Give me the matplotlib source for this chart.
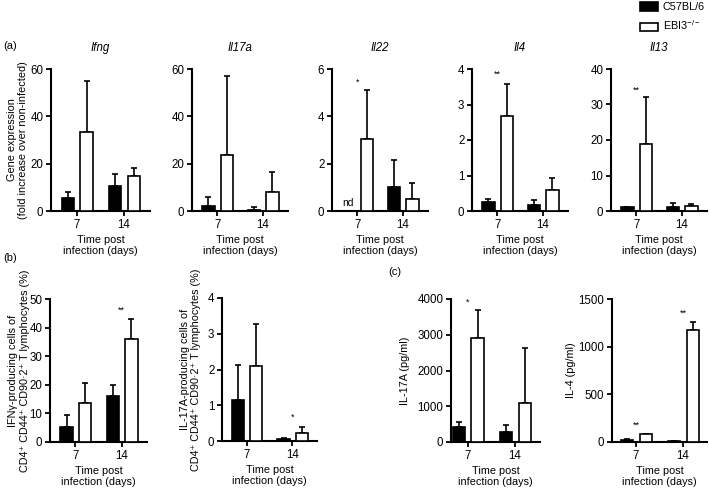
import matplotlib
matplotlib.use("Agg")
import matplotlib.pyplot as plt
from matplotlib.patches import Patch
import numpy as np

plt.rcParams['font.family'] = ['Liberation Sans', 'DejaVu Sans']
plt.rcParams['font.size'] = 7.5
plt.rcParams['mathtext.fontset'] = 'custom'
plt.rcParams['mathtext.rm'] = 'Liberation Sans'

days = ['7', '14']

# Panel (a) gene expression
genes = ['Ifng', 'Il17a', 'Il22', 'Il4', 'Il13']
a_black = [[5.5, 10.5], [2.0, 0.5], [0.0, 1.0], [0.25, 0.18], [1.0, 1.0]]
a_black_top = [[8.0, 15.5], [6.0, 1.5], [0.0, 2.15], [0.35, 0.30], [1.2, 2.2]]
a_white = [[33.5, 15.0], [23.5, 8.0], [3.05, 0.5], [2.68, 0.58], [19.0, 1.3]]
a_white_top = [[55.0, 18.0], [57.0, 16.5], [5.1, 1.2], [3.57, 0.92], [32.0, 2.0]]
a_ymax = [60, 60, 6, 4, 40]
a_yticks = [[0, 20, 40, 60], [0, 20, 40, 60], [0, 2, 4, 6], [0, 1, 2, 3, 4], [0, 10, 20, 30, 40]]
a_sig = [[], [], [(0, '*', 5.45)], [(0, '**', 3.85)], [(0, '**', 34)]]

# Panel (b) flow cytometry
b_black = [[5.3, 16.0], [1.15, 0.05]]
b_black_top = [[9.5, 20.0], [2.12, 0.08]]
b_white = [[13.5, 36.0], [2.1, 0.22]]
b_white_top = [[20.7, 43.0], [3.28, 0.40]]
b_ymax = [50, 4]
b_yticks = [[0, 10, 20, 30, 40, 50], [0, 1, 2, 3, 4]]
b_ylabels = ['IFN\u03b3-producing cells of\nCD4\u207a CD44\u207a CD90\u00b72\u207a T lymphocytes (%)',
             'IL-17A-producing cells of\nCD4\u207a CD44\u207a CD90\u00b72\u207a T lymphocytes (%)']
b_sig = [[(1, '**', 46)], [(1, '*', 0.67)]]

# Panel (c) cytokines
c_black = [[430, 270], [20, 10]]
c_black_top = [[560, 470], [30, 12]]
c_white = [[2900, 1100], [80, 1180]]
c_white_top = [[3700, 2620], [85, 1260]]
c_ymax = [4000, 1500]
c_yticks = [[0, 1000, 2000, 3000, 4000], [0, 500, 1000, 1500]]
c_ylabels = ['IL-17A (pg/ml)', 'IL-4 (pg/ml)']
c_sig = [[(0, '*', 3900)], [(0, '**', 180), (1, '**', 1350)]]

W, H = 709, 488
fig = plt.figure(figsize=(W / 100, H / 100), dpi=100)


def make_ax(x0, x1, ytop, ybot):
    return fig.add_axes([x0 / W, 1 - ybot / H, (x1 - x0) / W, (ybot - ytop) / H])


def draw(ax, black, btop, white, wtop, ymax, yticks, sig, xlim=(-0.55, 1.55)):
    x = np.arange(len(days))
    bw = 0.27
    xb = x - 0.19
    xw = x + 0.21
    lw = 1.2
    black = np.array(black, float)
    white = np.array(white, float)
    ax.bar(xb, black, bw, color='black', edgecolor='black', linewidth=lw, zorder=3)
    ax.bar(xw, white, bw, color='white', edgecolor='black', linewidth=lw, zorder=3)
    for xs, v, t in ((xb, black, btop), (xw, white, wtop)):
        for xi, vi, ti in zip(xs, v, t):
            if ti > vi:
                ax.errorbar(xi, vi, yerr=[[0], [ti - vi]], fmt='none', ecolor='black',
                            elinewidth=lw, capsize=2.2, capthick=lw, zorder=2)
    for gi, s, yv in sig:
        ax.text(gi, yv, s, ha='center', va='center', fontsize=6.5)
    ax.set_xlim(*xlim)
    ax.set_ylim(0, ymax)
    ax.set_yticks(yticks)
    ax.set_xticks(x)
    ax.set_xticklabels(days)
    for sp in ('top', 'right'):
        ax.spines[sp].set_visible(False)
    for sp in ('left', 'bottom'):
        ax.spines[sp].set_linewidth(1.5)
    ax.tick_params(axis='both', direction='out', length=3.5, width=1.3, pad=2, labelsize=8.3)
    ax.set_xlabel('Time post\ninfection (days)', fontsize=7.8, labelpad=3, linespacing=1.2)


# Panel (a)
a_x = [(51, 150), (192, 288), (332, 428), (472, 568), (611, 707)]
for i, g in enumerate(genes):
    ax = make_ax(a_x[i][0], a_x[i][1], 69, 211)
    draw(ax, a_black[i], a_black_top[i], a_white[i], a_white_top[i], a_ymax[i], a_yticks[i], a_sig[i])
    ax.set_title(g, fontstyle='italic', fontsize=8.3, pad=13)
    if i == 0:
        ax.set_ylabel('Gene expression\n(fold increase over non-infected)', fontsize=7.8, linespacing=1.2)
        ax.yaxis.set_label_coords(-0.23, 0.5)
    if g == 'Il22':
        ax.text(-0.19, 0.35, 'nd', ha='center', va='center', fontsize=7.5)

# Panel (b)
b_pos = [(50, 147, 299, 442), (222, 317, 298, 441)]
b_lc = [-0.21, -0.22]
for i in range(2):
    x0, x1, yt, yb = b_pos[i]
    ax = make_ax(x0, x1, yt, yb)
    draw(ax, b_black[i], b_black_top[i], b_white[i], b_white_top[i], b_ymax[i], b_yticks[i], b_sig[i])
    ax.set_ylabel(b_ylabels[i], fontsize=7.8, linespacing=1.2)
    ax.yaxis.set_label_coords(b_lc[i], 0.5)

# Panel (c)
c_pos = [(451, 540, 299, 442), (612, 707, 299, 442)]
c_xlim = [(-0.36, 1.53), (-0.51, 1.51)]
c_lc = [-0.46, -0.38]
for i in range(2):
    x0, x1, yt, yb = c_pos[i]
    ax = make_ax(x0, x1, yt, yb)
    draw(ax, c_black[i], c_black_top[i], c_white[i], c_white_top[i], c_ymax[i], c_yticks[i], c_sig[i],
         xlim=c_xlim[i])
    ax.set_ylabel(c_ylabels[i], fontsize=7.8)
    ax.yaxis.set_label_coords(c_lc[i], 0.5)

# Panel letters
fig.text(3 / W, 1 - 46 / H, '(a)', fontsize=8, va='center', ha='left')
fig.text(3 / W, 1 - 258 / H, '(b)', fontsize=8, va='center', ha='left')
fig.text(388 / W, 1 - 272 / H, '(c)', fontsize=8, va='center', ha='left')

# Legend
handles = [Patch(facecolor='black', edgecolor='black', linewidth=1.2, label='C57BL/6'),
           Patch(facecolor='white', edgecolor='black', linewidth=1.2, label='EBI3$^{-/-}$')]
fig.legend(handles=handles, loc='upper left', bbox_to_anchor=(638 / W, 1.0), frameon=False,
           fontsize=7.8, handlelength=1.6, handleheight=0.8, handletextpad=0.5, labelspacing=0.6,
           borderaxespad=0.1, borderpad=0.1)

fig.savefig('out.png', dpi=100)
